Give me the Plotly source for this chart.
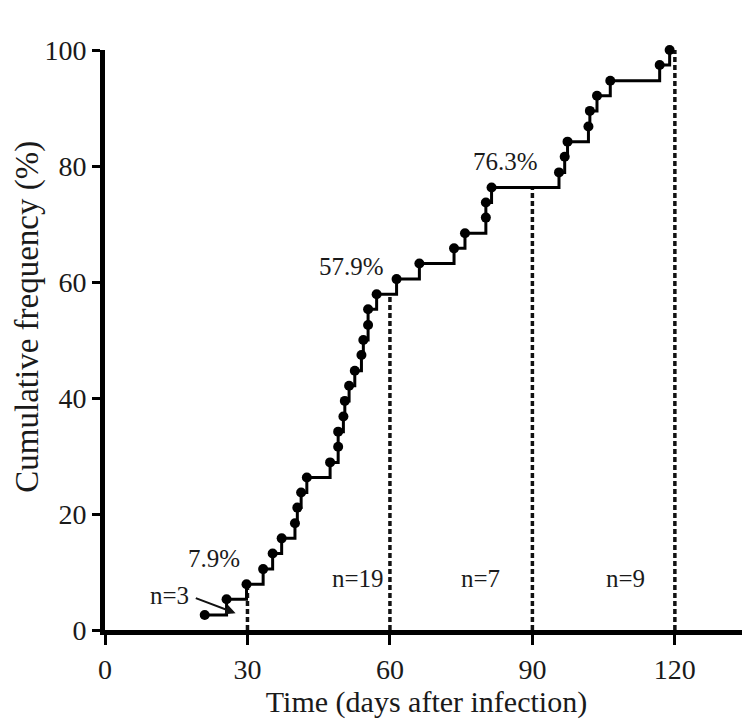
import plotly.graph_objects as go

# event times (days after infection) and cumulative frequency (%)
days = [21.0, 25.6, 29.8,
        33.3, 35.3, 37.2, 40.0, 40.5, 41.3, 42.5, 47.4, 49.1, 49.1, 50.2,
        50.5, 51.4, 52.6, 54.0, 54.4, 55.4, 55.4, 57.2,
        61.4, 66.2, 73.5, 75.8, 80.2, 80.2, 81.4,
        95.6, 96.8, 97.4, 101.8, 102.1, 103.6, 106.4, 116.8, 118.9]
cum_pct = [2.6, 5.3, 7.9,
           10.5, 13.2, 15.8, 18.4, 21.1, 23.7, 26.3, 28.9, 31.6, 34.2, 36.8,
           39.5, 42.1, 44.7, 47.4, 50.0, 52.6, 55.3, 57.9,
           60.5, 63.2, 65.8, 68.4, 71.1, 73.7, 76.3,
           78.9, 81.6, 84.2, 86.8, 89.5, 92.1, 94.7, 97.4, 100.0]

# period cut-offs
cut_days = [30, 60, 90, 120]
cut_pct = [7.9, 57.9, 76.3, 100.0]
pct_labels = ["7.9%", "57.9%", "76.3%", "100%"]
n_labels = ["n=3", "n=19", "n=7", "n=9"]

x_ticks = [0, 30, 60, 90, 120]
y_ticks = [0, 20, 40, 60, 80, 100]

FONT = "Liberation Serif"
INK = "#1a1a1a"

fig = go.Figure()

# dashed cut-off lines
for d, p in zip(cut_days, cut_pct):
    fig.add_trace(go.Scatter(
        x=[d, d], y=[0, p], mode="lines",
        line=dict(color="#111", width=3.5, dash="5px,3px"),
        showlegend=False, hoverinfo="skip", cliponaxis=False,
    ))

# step curve
fig.add_trace(go.Scatter(
    x=days, y=cum_pct, mode="lines+markers",
    line=dict(color="#000", width=3, shape="hv"),
    marker=dict(color="#000", size=10),
    showlegend=False, cliponaxis=False,
))

# percentage labels
pct_pos = [(22.9, 12.4), (52.0, 62.6), (84.4, 80.8), (111.8, 104.6)]
for (x, y), t in zip(pct_pos, pct_labels):
    fig.add_annotation(x=x, y=y, text=t, showarrow=False,
                       font=dict(family=FONT, size=25, color=INK))

# n labels
n_pos = [(13.5, 6.0), (53.3, 8.8), (79.0, 8.8), (109.7, 8.8)]
for i, ((x, y), t) in enumerate(zip(n_pos, n_labels)):
    if i == 0:
        fig.add_annotation(x=27.5, y=2.9, ax=18.8, ay=5.6, axref="x", ayref="y",
                           text="", showarrow=True, arrowhead=2, arrowsize=1,
                           arrowwidth=2, arrowcolor="#111")
    fig.add_annotation(x=x, y=y, text=t, showarrow=False,
                       font=dict(family=FONT, size=25, color=INK))

# y title placed by hand (sits a bit above the axis middle in the original)
fig.add_annotation(x=-0.12, y=0.54, xref="paper", yref="paper",
                   text="Cumulative frequency (%)", textangle=-90,
                   showarrow=False, xanchor="center", yanchor="middle",
                   font=dict(family=FONT, size=33, color=INK))

# page body keeps an 8px margin, so the figure is 8px smaller than the window
fig.update_layout(
    width=742, height=717,
    margin=dict(l=97, r=2, t=42, b=95),
    plot_bgcolor="#fff", paper_bgcolor="#fff",
    font=dict(family=FONT, color=INK),
    xaxis=dict(
        range=[0, 135.4], tickvals=x_ticks, ticks="outside", ticklen=10,
        tickwidth=3, tickcolor="#000", showline=True, linewidth=5,
        linecolor="#000", showgrid=False, zeroline=False,
        tickfont=dict(family=FONT, size=28, color=INK),
        title=dict(text="Time (days after infection)", standoff=6,
                   font=dict(family=FONT, size=30, color=INK)),
    ),
    yaxis=dict(
        range=[0, 100], tickvals=y_ticks, ticks="outside", ticklen=8,
        tickwidth=3, tickcolor="#000", showline=True, linewidth=5,
        linecolor="#000", showgrid=False, zeroline=False,
        tickfont=dict(family=FONT, size=28, color=INK),
    ),
)

fig.write_html("out.html")
